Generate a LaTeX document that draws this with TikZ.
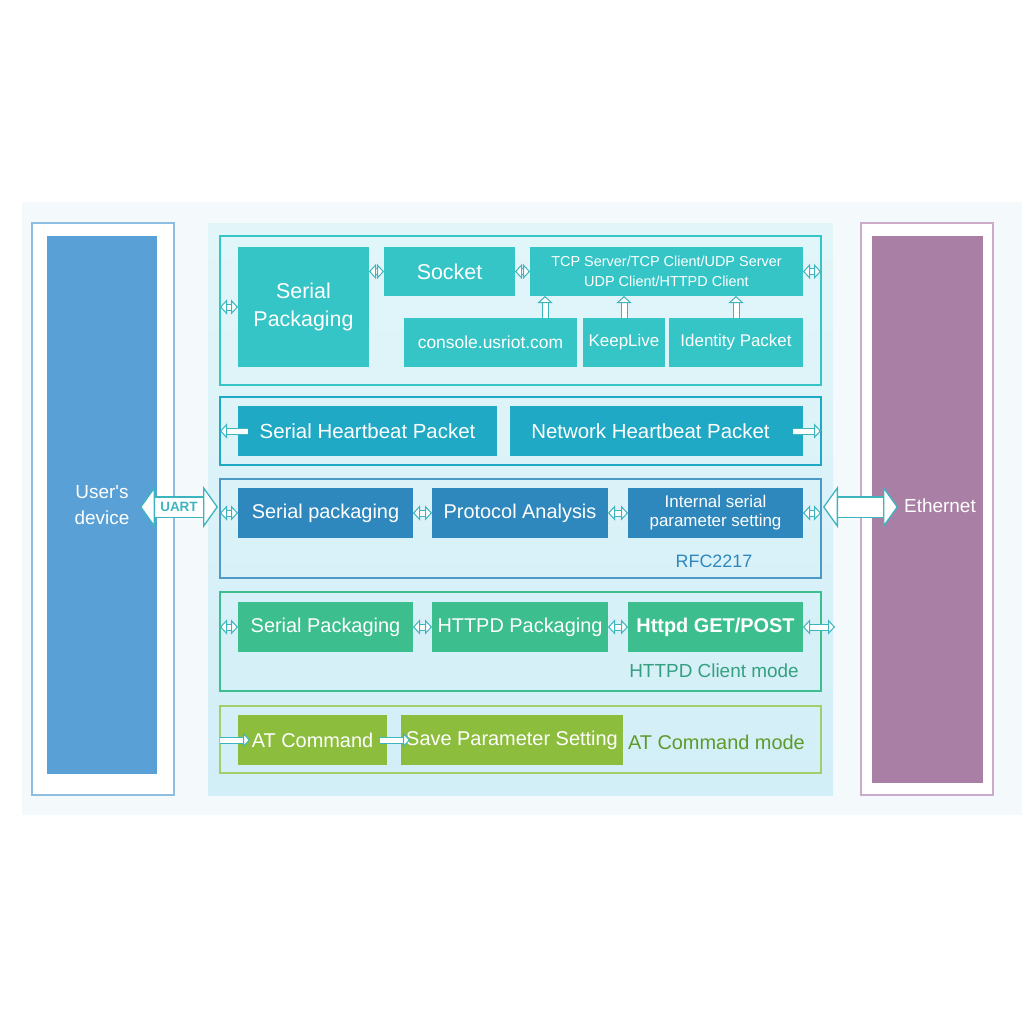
\documentclass[tikz,border=0pt]{standalone}
\usepackage{fontspec}
\setmainfont{Liberation Sans}
\usetikzlibrary{arrows.meta}

\definecolor{bgpale}{HTML}{F4FAFC}
\definecolor{pantop}{HTML}{E2F6F9}
\definecolor{panbot}{HTML}{D2EEF7}
\definecolor{devblue}{HTML}{58A0D5}
\definecolor{devline}{HTML}{8DBEDF}
\definecolor{ethpurple}{HTML}{A97FA5}
\definecolor{ethline}{HTML}{CBAACA}
\definecolor{topc}{HTML}{35C5C6}
\definecolor{hbc}{HTML}{1FA9C4}
\definecolor{rfcc}{HTML}{2F88BD}
\definecolor{httpc}{HTML}{3DBE8E}
\definecolor{httptxt}{HTML}{35A081}
\definecolor{atcol}{HTML}{8CBD3C}
\definecolor{atline}{HTML}{A3CF6A}
\definecolor{attxt}{HTML}{5E9A2A}
\definecolor{arrc}{HTML}{3DB5BE}

\begin{document}
\begin{tikzpicture}[
	x = 1bp, y = -1bp,
	every node/.style = {inner sep = 0pt, outer sep = 0pt},
	blk/.style = {anchor = north west, text = white, align = center,
		font = \fontsize{20}{24}\selectfont},
	frm/.style = {anchor = north west, draw = #1, line width = 1.2bp,
		minimum width = 601bp},
	harr/.style = {draw = arrc, line width = 1bp, double = white,
		double distance = 5bp, {Triangle[length = 7bp, width = 15bp, fill = white]}-{Triangle[length = 7bp, width = 15bp, fill = white]}},
	rarr/.style = {draw = arrc, line width = 1bp, double = white,
		double distance = 5bp, -{Triangle[length = 7bp, width = 15bp, fill = white]}},
	bigarr/.style = {draw = arrc, line width = 1.3bp, double = white,
		double distance = 19bp, {Triangle[length = 15bp, width = 42bp, fill = white]}-{Triangle[length = 15bp, width = 42bp, fill = white]}}
	]
	\useasboundingbox (0,0) rectangle (1024,1024);

	% background and side columns
	\fill[bgpale] (22,202) rectangle (1022,815);
	\node[anchor = north west, draw = devline, fill = white, line width = 1.2bp,
		minimum width = 142bp, minimum height = 572bp] (devfrm) at (32,223) {};
	\node[blk, fill = devblue, minimum width = 110bp, minimum height = 538bp,
		font = \fontsize{19}{26}\selectfont] (dev) at (47,236) {User\textquotesingle s\\device};
	\node[anchor = north west, draw = ethline, fill = white, line width = 1.2bp,
		minimum width = 132bp, minimum height = 572bp] (ethfrm) at (861,223) {};
	\node[anchor = north west, fill = ethpurple, minimum width = 111bp,
		minimum height = 547bp] (eth) at (872,236) {};
	\node[text = white, font = \fontsize{19}{22}\selectfont] (ethlbl) at (940,506) {Ethernet};
	\node[anchor = north west, top color = pantop, bottom color = panbot,
		minimum width = 625bp, minimum height = 572bp] (panel) at (208,223) {};

	% section frames
	\node[frm = topc, minimum height = 149bp] (f1) at (220,236) {};
	\node[frm = hbc, minimum height = 68bp] (f2) at (220,397) {};
	\node[frm = rfcc!85, minimum height = 99bp] (f3) at (220,479) {};
	\node[frm = httpc, minimum height = 99bp] (f4) at (220,592) {};
	\node[frm = atline, minimum height = 67bp] (f5) at (220,706) {};

	% socket section
	\node[blk, fill = topc, minimum width = 131bp, minimum height = 120bp,
		font = \fontsize{21.5}{28}\selectfont] (sp) at (238,247) {Serial\\Packaging};
	\node[blk, fill = topc, minimum width = 131bp, minimum height = 49bp,
		font = \fontsize{21.5}{24}\selectfont] (sock) at (384,247) {Socket};
	\node[blk, fill = topc, minimum width = 273bp, minimum height = 49bp,
		font = \fontsize{14.5}{20}\selectfont] (tcp) at (530,247) {TCP Server/TCP Client/UDP Server\\UDP Client/HTTPD Client};
	\node[blk, fill = topc, minimum width = 173bp, minimum height = 49bp,
		font = \fontsize{17.5}{20}\selectfont] (con) at (404,318) {console.usriot.com};
	\node[blk, fill = topc, minimum width = 82bp, minimum height = 49bp,
		font = \fontsize{17}{20}\selectfont] (kl) at (583,318) {KeepLive};
	\node[blk, fill = topc, minimum width = 134bp, minimum height = 49bp,
		font = \fontsize{17}{20}\selectfont] (idp) at (669,318) {Identity Packet};

	% heartbeat section
	\node[blk, fill = hbc, minimum width = 259bp, minimum height = 50bp,
		font = \fontsize{20.5}{24}\selectfont] (shb) at (238,406) {Serial Heartbeat Packet};
	\node[blk, fill = hbc, minimum width = 293bp, minimum height = 50bp,
		font = \fontsize{20.5}{24}\selectfont] (nhb) at (510,406) {Network Heartbeat Packet\hspace{12bp}};

	% RFC2217 section
	\node[blk, fill = rfcc, minimum width = 175bp, minimum height = 50bp] (rsp) at (238,488) {Serial packaging};
	\node[blk, fill = rfcc, minimum width = 176bp, minimum height = 50bp] (pa) at (432,488) {Protocol Analysis};
	\node[blk, fill = rfcc, minimum width = 175bp, minimum height = 50bp,
		font = \fontsize{17}{19}\selectfont] (isp) at (628,488) {Internal serial\\parameter setting};
	\node[text = rfcc, font = \fontsize{18}{20}\selectfont] (rfclbl) at (714,561) {RFC2217};

	% HTTPD section
	\node[blk, fill = httpc, minimum width = 175bp, minimum height = 50bp] (hsp) at (238,602) {Serial Packaging};
	\node[blk, fill = httpc, minimum width = 176bp, minimum height = 50bp] (hpk) at (432,602) {HTTPD Packaging};
	\node[blk, fill = httpc, minimum width = 175bp, minimum height = 50bp,
		font = \fontsize{20}{24}\selectfont\bfseries] (hget) at (628,602) {Httpd GET/POST};
	\node[text = httptxt, font = \fontsize{19}{22}\selectfont] (httplbl) at (714,671) {HTTPD Client mode};

	% AT section
	\node[blk, fill = atcol, minimum width = 149bp, minimum height = 50bp] (atc) at (238,715) {AT Command};
	\node[blk, fill = atcol, minimum width = 222bp, minimum height = 50bp] (sav) at (401,715) {Save Parameter Setting};
	\node[anchor = west, text = attxt, font = \fontsize{20}{24}\selectfont] (atlbl) at (628,742) {AT Command mode};

	% connectors
	\draw[harr] (f1.west |- sp) -- (sp.west);
	\draw[harr] (sp.east |- sock) -- (sock.west);
	\draw[harr] (sock.east) -- (tcp.west);
	\draw[harr] (tcp.east) -- (f1.east |- tcp);
	\draw[rarr] ([xshift = 15bp]tcp.south west |- con.north) -- ([xshift = 15bp]tcp.south west);
	\draw[rarr] (kl.north) -- (kl.north |- tcp.south);
	\draw[rarr] (idp.north) -- (idp.north |- tcp.south);

	\draw[rarr] ([xshift = 10bp]shb.west) -- (f2.west |- shb);
	\draw[rarr] ([xshift = -10bp]nhb.east) -- (f2.east |- nhb);

	\draw[harr] (f3.west |- rsp) -- (rsp.west);
	\draw[harr] (rsp.east) -- (pa.west);
	\draw[harr] (pa.east) -- (isp.west);
	\draw[harr] (isp.east) -- (f3.east |- isp);

	\draw[harr] (f4.west |- hsp) -- (hsp.west);
	\draw[harr] (hsp.east) -- (hpk.west);
	\draw[harr] (hpk.east) -- (hget.west);
	\draw[harr] (hget.east) -- ([xshift = 14bp]f4.east |- hget);

	\draw[rarr] (f5.west |- atc) -- ([xshift = 12bp]atc.west);
	\draw[rarr] ([xshift = -7bp]atc.east) -- ([xshift = 9bp]sav.west);

	\draw[bigarr] ([xshift = -17bp, yshift = 6bp]dev.east |- rsp) -- ([xshift = -2bp, yshift = 6bp]f3.west |- rsp)
		node[midway, text = arrc, font = \fontsize{13.5}{16}\selectfont\bfseries] (uart) {UART};
	\draw[bigarr] ([xshift = 2bp, yshift = 6bp]f3.east |- rsp) -- ([xshift = 26bp, yshift = 6bp]eth.west |- rsp);

\end{tikzpicture}
\end{document}
